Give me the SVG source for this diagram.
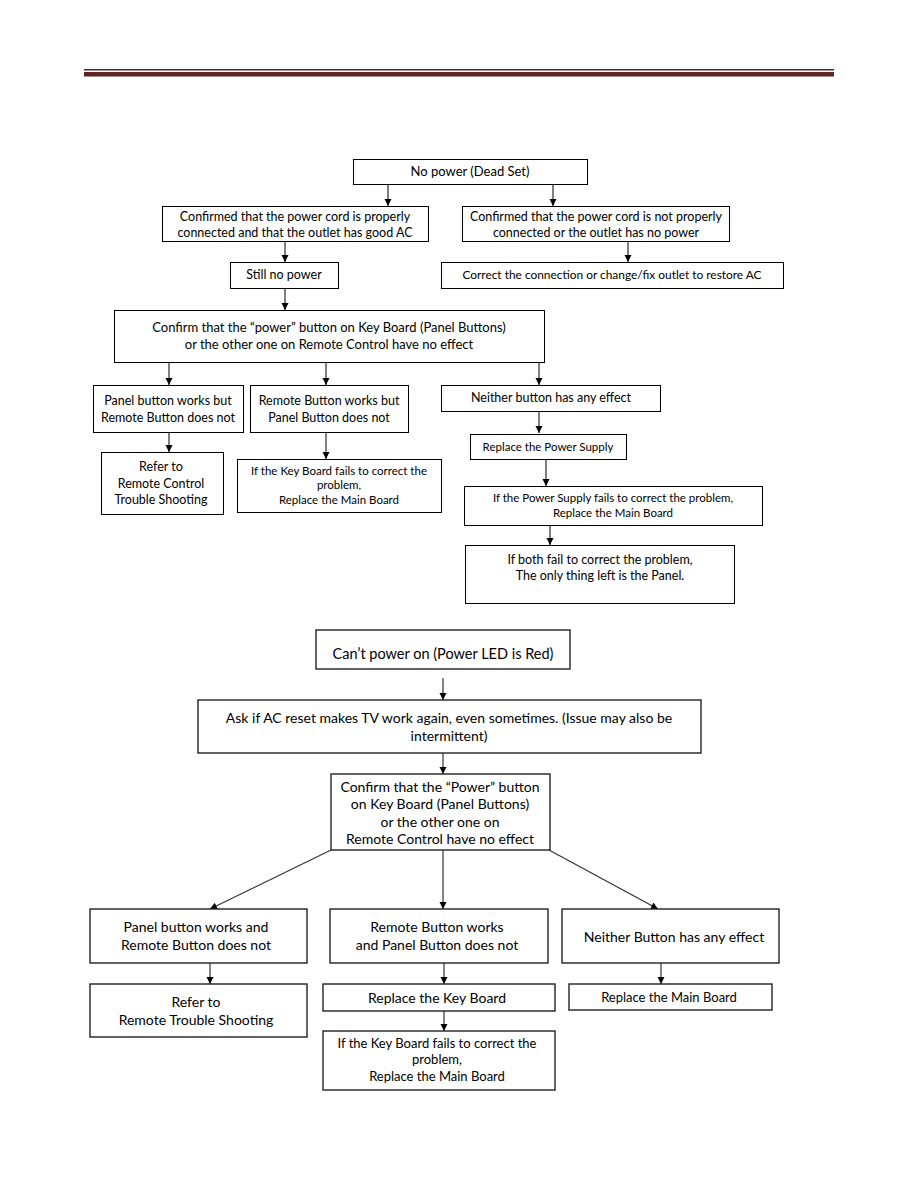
<svg xmlns="http://www.w3.org/2000/svg" width="918" height="1188" viewBox="0 0 918 1188">
<style>
.b{fill:#fff;stroke:#000;stroke-width:1}
.b2{fill:#fff;stroke:#222;stroke-width:1.4}
text{font-family:Lato,"Open Sans",sans-serif;fill:#000;text-anchor:middle}
.t{font-size:12.5px}
.s{font-size:11.5px}
.l{font-size:14px}
.m{font-size:13px}
.c line{stroke:#000;stroke-width:1}
.c2 line{stroke:#333;stroke-width:1.2}
</style>
<defs>
<marker id="ah" viewBox="0 0 10 10" refX="10" refY="5" markerWidth="7" markerHeight="8" markerUnits="userSpaceOnUse" orient="auto">
<path d="M0,0L10,5L0,10z" fill="#000"/>
</marker>
</defs>
<rect x="84" y="69" width="750" height="1.5" fill="#5c2524"/>
<rect x="84" y="72" width="750" height="4.5" fill="#5c2524"/>

<g class="c" id="connectors-top">
<line x1="388" y1="185" x2="388" y2="206" marker-end="url(#ah)"/>
<line x1="553" y1="185" x2="553" y2="206" marker-end="url(#ah)"/>
<line x1="285" y1="241" x2="285" y2="262" marker-end="url(#ah)"/>
<line x1="628" y1="241" x2="628" y2="262" marker-end="url(#ah)"/>
<line x1="285" y1="288" x2="285" y2="310" marker-end="url(#ah)"/>
<line x1="169" y1="362" x2="169" y2="385" marker-end="url(#ah)"/>
<line x1="326" y1="362" x2="326" y2="385" marker-end="url(#ah)"/>
<line x1="539" y1="362" x2="539" y2="385" marker-end="url(#ah)"/>
<line x1="539" y1="411" x2="539" y2="433" marker-end="url(#ah)"/>
<line x1="169" y1="432" x2="169" y2="452" marker-end="url(#ah)"/>
<line x1="326" y1="432" x2="326" y2="459" marker-end="url(#ah)"/>
<line x1="546" y1="460" x2="546" y2="486" marker-end="url(#ah)"/>
<line x1="550" y1="525" x2="550" y2="545" marker-end="url(#ah)"/>
</g>

<g id="n1"><rect class="b" x="353.5" y="159.5" width="234" height="25"/><text class="m" x="470" y="176">No power (Dead Set)</text></g>
<g id="n2"><rect class="b" x="162.5" y="206.5" width="266" height="35"/><text class="t" x="295" y="221">Confirmed that the power cord is properly</text><text class="t" x="295" y="237">connected and that the outlet has good AC</text></g>
<g id="n3"><rect class="b" x="462.5" y="206.5" width="267" height="35"/><text class="t" x="596" y="221">Confirmed that the power cord is not properly</text><text class="t" x="596" y="237">connected or the outlet has no power</text></g>
<g id="n4"><rect class="b" x="230.5" y="262.5" width="108" height="26"/><text class="t" x="284" y="279">Still no power</text></g>
<g id="n5"><rect class="b" x="441.5" y="262.5" width="342" height="26"/><text class="t" x="612" y="279" style="font-size:11.9px">Correct the connection or change/fix outlet to restore AC</text></g>
<g id="n6"><rect class="b" x="114.5" y="310.5" width="430" height="52"/><text class="t" x="329" y="332" style="font-size:13px">Confirm that the “power” button on Key Board (Panel Buttons)</text><text class="t" x="329" y="349" style="font-size:13px">or the other one on Remote Control have no effect</text></g>
<g id="n7"><rect class="b" x="93.5" y="385.5" width="150" height="47"/><text class="t" x="168" y="405">Panel button works but</text><text class="t" x="168" y="422">Remote Button does not</text></g>
<g id="n8"><rect class="b" x="250.5" y="385.5" width="158" height="47"/><text class="t" x="329" y="405">Remote Button works but</text><text class="t" x="329" y="422">Panel Button does not</text></g>
<g id="n9"><rect class="b" x="441.5" y="385.5" width="219" height="26"/><text class="t" x="551" y="402">Neither button has any effect</text></g>
<g id="n10"><rect class="b" x="470.5" y="434.5" width="156" height="25"/><text class="s" x="548" y="451">Replace the Power Supply</text></g>
<g id="n11"><rect class="b" x="101.5" y="452.5" width="122" height="62"/><text class="t" x="161" y="471">Refer to</text><text class="t" x="161" y="488">Remote Control</text><text class="t" x="161" y="504">Trouble Shooting</text></g>
<g id="n12"><rect class="b" x="237.5" y="459.5" width="204" height="53"/><text class="s" x="339" y="475">If the Key Board fails to correct the</text><text class="s" x="339" y="489">problem,</text><text class="s" x="339" y="504">Replace the Main Board</text></g>
<g id="n13"><rect class="b" x="464.5" y="486.5" width="298" height="39"/><text class="s" x="613" y="502">If the Power Supply fails to correct the problem,</text><text class="s" x="613" y="517">Replace the Main Board</text></g>
<g id="n14"><rect class="b" x="465.5" y="545.5" width="269" height="58"/><text class="t" x="600" y="564">If both fail to correct the problem,</text><text class="t" x="600" y="580">The only thing left is the Panel.</text></g>

<g class="c2" id="connectors-bottom">
<line x1="443" y1="678" x2="443" y2="700" marker-end="url(#ah)"/>
<line x1="443" y1="753" x2="443" y2="774" marker-end="url(#ah)"/>
<line x1="331" y1="850" x2="210" y2="909" marker-end="url(#ah)"/>
<line x1="443" y1="850" x2="443" y2="909" marker-end="url(#ah)"/>
<line x1="549" y1="850" x2="658" y2="909" marker-end="url(#ah)"/>
<line x1="210" y1="963" x2="210" y2="984" marker-end="url(#ah)"/>
<line x1="444" y1="963" x2="444" y2="984" marker-end="url(#ah)"/>
<line x1="661" y1="963" x2="661" y2="984" marker-end="url(#ah)"/>
<line x1="444" y1="1011" x2="444" y2="1031" marker-end="url(#ah)"/>
</g>

<g id="m1"><rect class="b2" x="316" y="630" width="254" height="39"/><text class="l" x="443" y="659" style="font-size:14.5px">Can’t power on (Power LED is Red)</text></g>
<g id="m2"><rect class="b2" x="198" y="700" width="503" height="53"/><text class="l" x="449" y="723">Ask if AC  reset makes TV  work again, even sometimes. (Issue may also be</text><text class="l" x="449" y="741">intermittent)</text></g>
<g id="m3"><rect class="b2" x="331" y="774" width="219" height="76"/><text class="l" x="440" y="792">Confirm that the “Power” button</text><text class="l" x="440" y="809">on Key Board (Panel Buttons)</text><text class="l" x="440" y="827">or the other one on</text><text class="l" x="440" y="844">Remote Control have no effect</text></g>
<g id="m4"><rect class="b2" x="90" y="909" width="217" height="54"/><text class="l" x="196" y="932">Panel button works and</text><text class="l" x="196" y="950">Remote Button does not</text></g>
<g id="m5"><rect class="b2" x="330" y="909" width="218" height="54"/><text class="l" x="437" y="932">Remote Button works</text><text class="l" x="437" y="950">and Panel Button does not</text></g>
<g id="m6"><rect class="b2" x="562" y="909" width="217" height="54"/><text class="l" x="674" y="942">Neither Button has any effect</text></g>
<g id="m7"><rect class="b2" x="90" y="984" width="217" height="53"/><text class="l" x="196" y="1007">Refer to</text><text class="l" x="196" y="1025">Remote Trouble Shooting</text></g>
<g id="m8"><rect class="b2" x="323" y="984" width="232" height="27"/><text class="l" x="437" y="1003">Replace the Key Board</text></g>
<g id="m9"><rect class="b2" x="569" y="984" width="203" height="26"/><text class="m" x="669" y="1002">Replace the Main Board</text></g>
<g id="m10"><rect class="b2" x="323" y="1031" width="232" height="59"/><text class="m" x="437" y="1048">If the Key Board fails to correct the</text><text class="m" x="437" y="1064">problem,</text><text class="m" x="437" y="1081">Replace the Main Board</text></g>
</svg>
